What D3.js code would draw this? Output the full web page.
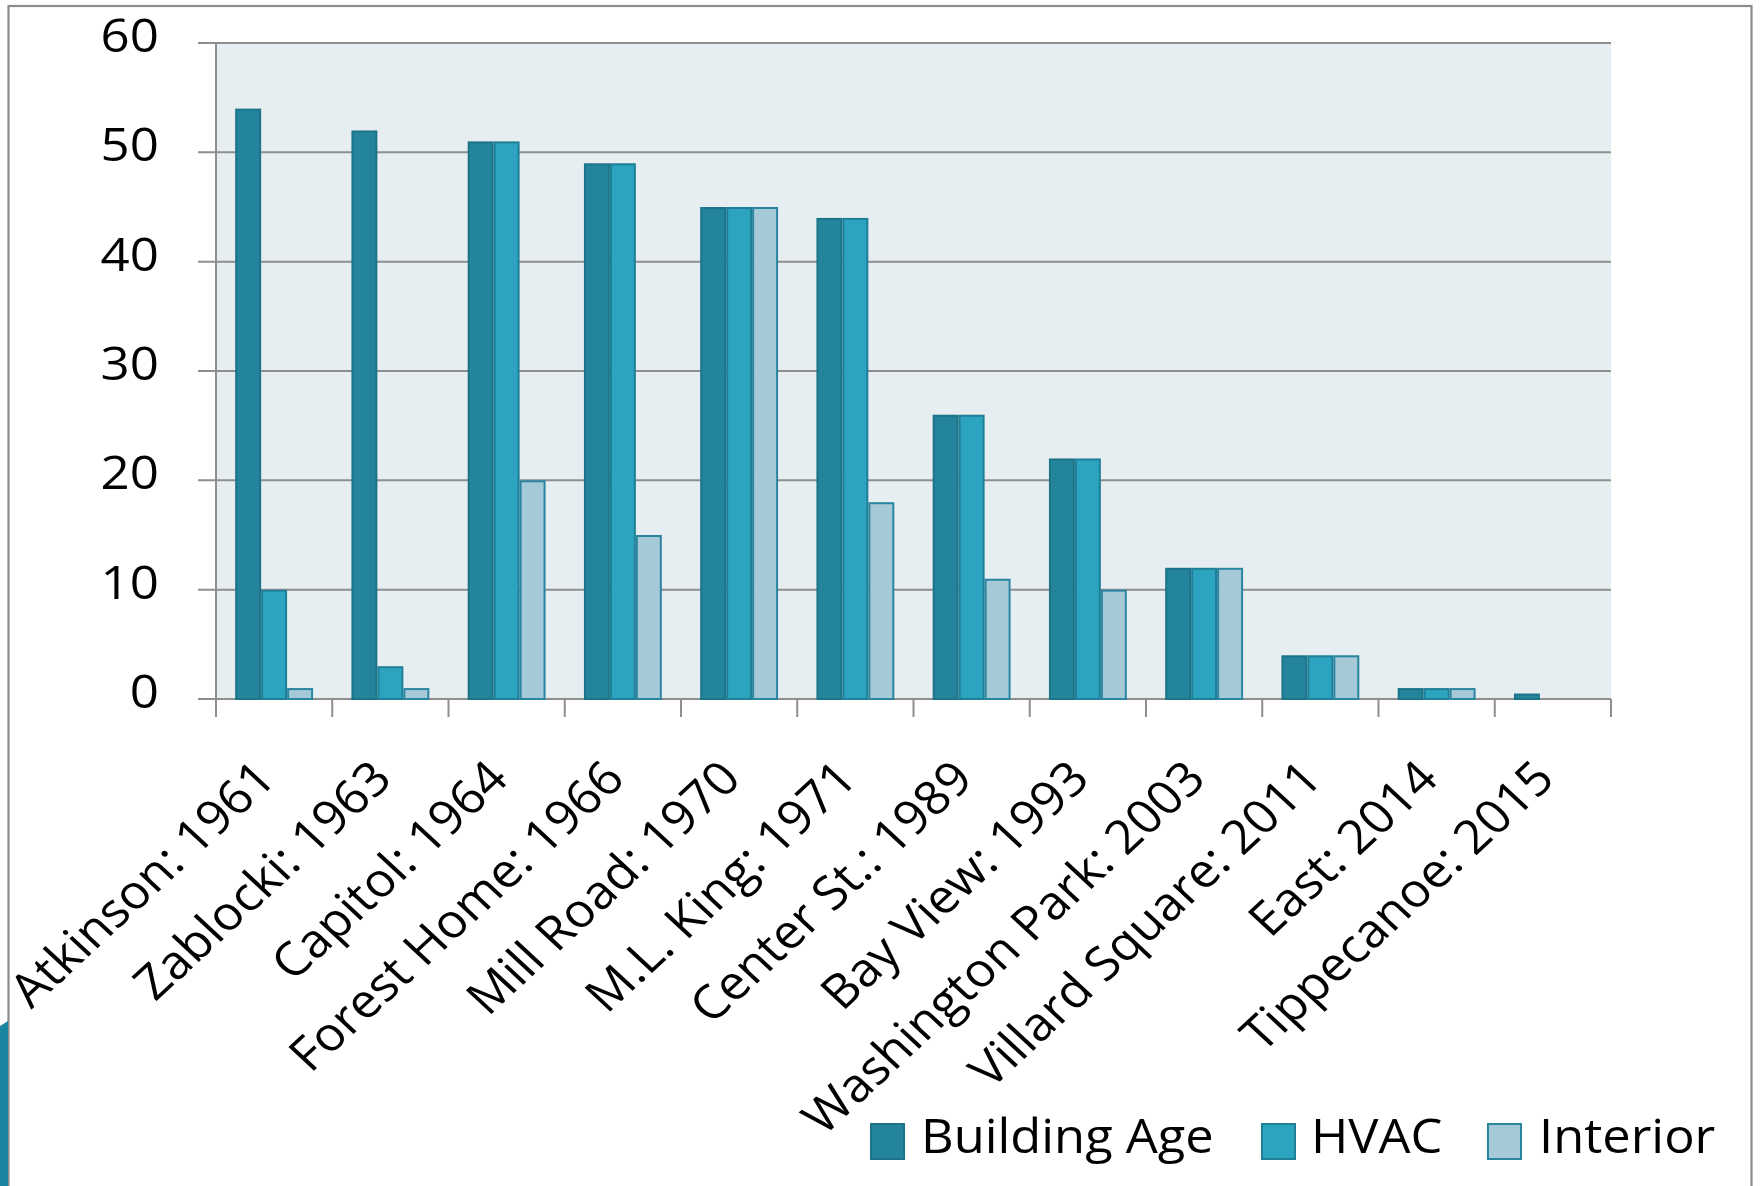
<!DOCTYPE html>
<html>
<head>
<meta charset="utf-8">
<script src="https://cdn.jsdelivr.net/npm/d3@7"></script>
<style>
  html, body { margin: 0; padding: 0; background: #ffffff; }
  svg { display: block; }
  text { font-family: "Open Sans", "Noto Sans", sans-serif; fill: #000; }
</style>
</head>
<body>
<svg id="chart" width="1760" height="1186"></svg>
<script>
const categories = ["Atkinson: 1961", "Zablocki: 1963", "Capitol: 1964", "Forest Home: 1966",
  "Mill Road: 1970", "M.L. King: 1971", "Center St.: 1989", "Bay View: 1993",
  "Washington Park: 2003", "Villard Square: 2011", "East: 2014", "Tippecanoe: 2015"];
const seriesNames = ["Building Age", "HVAC", "Interior"];
const buildingAge = [54, 52, 51, 49, 45, 44, 26, 22, 12, 4, 1, 0.5];
const hvac        = [10, 3, 51, 49, 45, 44, 26, 22, 12, 4, 1, 0];
const interior    = [1, 1, 20, 15, 45, 18, 11, 10, 12, 4, 1, 0];
const yTicks = [0, 10, 20, 30, 40, 50, 60];

const fills   = ["#23849b", "#2ca3bf", "#a6c9d8"];
const strokes = ["#1c7489", "#1f7f97", "#2a86a0"];

const svg = d3.select("#chart");
const L = 216, R = 1611, T = 43, B = 699;

// frame
svg.append("rect").attr("x", 8.5).attr("y", 6).attr("width", 1743).attr("height", 1200)
  .attr("fill", "none").attr("stroke", "#8c8c8c").attr("stroke-width", 2.2);
// decoration bottom-left
svg.append("path").attr("d", "M0,1026 L8,1021 L8,1186 L0,1186 Z").attr("fill", "#1c86a0");

const y = d3.scaleLinear().domain([0, 60]).range([B, T]);
const x0 = d3.scaleBand().domain(categories).range([L, R]).paddingInner(0.33).paddingOuter(0.165);
const x1 = d3.scaleBand().domain(seriesNames).range([0, x0.bandwidth()]);

// plot background
svg.append("rect").attr("x", L).attr("y", T).attr("width", R - L).attr("height", B - T).attr("fill", "#e6eef2");

// gridlines
svg.append("g").selectAll("line").data(yTicks).join("line")
  .attr("x1", L - 18).attr("x2", R)
  .attr("y1", d => y(d)).attr("y2", d => y(d))
  .attr("stroke", "#8e8e8e").attr("stroke-width", 2);

// y labels
svg.append("g").selectAll("text").data(yTicks).join("text")
  .attr("transform", d => `translate(159,${y(d) - 7}) scale(1.11,1)`)
  .attr("dy", "0.35em")
  .attr("text-anchor", "end")
  .attr("font-size", 46)
  .text(d => d);

// left axis line
svg.append("line").attr("x1", L).attr("x2", L).attr("y1", T).attr("y2", B)
  .attr("stroke", "#8e8e8e").attr("stroke-width", 2);

// bars
const data = categories.map((c, i) => ({ c, vals: [buildingAge[i], hvac[i], interior[i]] }));
const g = svg.append("g").selectAll("g").data(data).join("g")
  .attr("transform", d => `translate(${x0(d.c)},0)`);
g.selectAll("rect").data(d => d.vals.map((v, k) => ({ v, k })).filter(e => e.v > 0)).join("rect")
  .attr("x", e => x1(seriesNames[e.k]) + 1)
  .attr("width", x1.bandwidth() - 2)
  .attr("y", e => y(e.v) + 1)
  .attr("height", e => Math.max(0, B - y(e.v) - 1))
  .attr("fill", e => fills[e.k])
  .attr("stroke", e => strokes[e.k])
  .attr("stroke-width", 2);

// x ticks at band boundaries
const step = x0.step();
svg.append("g").selectAll("line").data(d3.range(categories.length + 1)).join("line")
  .attr("x1", i => L + i * step).attr("x2", i => L + i * step)
  .attr("y1", B).attr("y2", 717)
  .attr("stroke", "#8e8e8e").attr("stroke-width", 2);

// x labels (rotated, slightly stretched horizontally like the reference)
svg.append("g").selectAll("text").data(categories).join("text")
  .attr("transform", c => `translate(${x0(c) + x0.bandwidth() / 2 + 4},781) scale(1.08,1) rotate(-45)`)
  .attr("text-anchor", "end")
  .attr("font-size", 47)
  .text(c => c);

// legend
const legendX = [871, 1262, 1488];
const legendTextX = [921, 1311, 1539];
const lg = svg.append("g");
seriesNames.forEach((s, k) => {
  lg.append("rect").attr("x", legendX[k]).attr("y", 1124).attr("width", 33).attr("height", 35)
    .attr("fill", fills[k]).attr("stroke", strokes[k]).attr("stroke-width", 2);
  lg.append("text").attr("transform", `translate(${legendTextX[k]},1153) scale(1.055,1)`)
    .attr("font-size", 48).text(s);
});
</script>
</body>
</html>
